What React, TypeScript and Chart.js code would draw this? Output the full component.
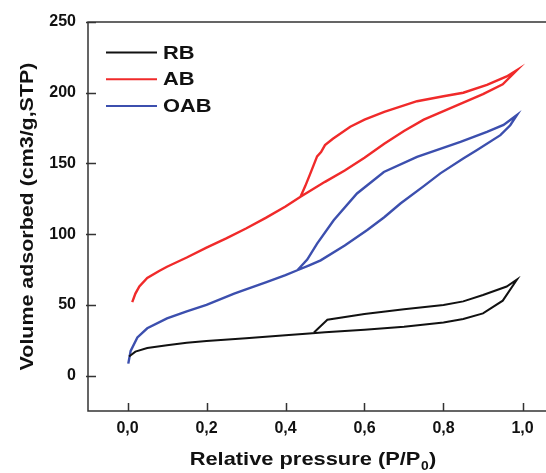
import React, { useEffect, useRef } from "react";
import { Chart, registerables } from "chart.js";

Chart.register(...registerables);

const xTicks = [0, 0.2, 0.4, 0.6, 0.8, 1.0];
const yTicks = [0, 50, 100, 150, 200, 250];

// RB: adsorption branch then desorption branch
const rbPressure = [0.004, 0.02, 0.05, 0.1, 0.15, 0.2, 0.3, 0.4, 0.46, 0.5, 0.6, 0.7, 0.8, 0.85, 0.9, 0.95, 0.986,
  0.96, 0.9, 0.85, 0.8, 0.7, 0.6, 0.506, 0.472];
const rbVolume = [13.5, 17, 19.5, 21.5, 23.2, 24.5, 26.5, 28.5, 29.8, 30.6, 32.5, 34.5, 37.5, 40, 44, 53, 68,
  63, 57, 52.5, 50, 47, 43.5, 39.5, 30.5];

const abPressure = [0.012, 0.02, 0.03, 0.05, 0.08, 0.1, 0.15, 0.2, 0.25, 0.3, 0.35, 0.4, 0.438, 0.5, 0.55, 0.6, 0.65, 0.7, 0.75, 0.8, 0.85, 0.9, 0.95, 0.986,
  0.96, 0.91, 0.85, 0.8, 0.733, 0.65, 0.6, 0.564, 0.52, 0.5, 0.49, 0.48, 0.463, 0.45, 0.438];
const abVolume = [52, 58, 63, 69, 74, 77, 83.5, 90.5, 97, 104, 111.5, 119.5, 126.5, 137, 145, 154, 164, 173, 181, 187, 193, 199, 206, 216,
  211.5, 205.5, 200, 197.5, 194, 186.5, 181, 176, 167.5, 163, 158, 155, 143, 134, 126.5];

const oabPressure = [0.002, 0.008, 0.025, 0.05, 0.1, 0.15, 0.2, 0.27, 0.3, 0.35, 0.4, 0.43, 0.46, 0.489, 0.55, 0.607, 0.65, 0.691, 0.75, 0.792, 0.85, 0.885, 0.944, 0.969, 0.986,
  0.952, 0.91, 0.843, 0.733, 0.649, 0.581, 0.522, 0.48, 0.455, 0.43];
const oabVolume = [8.5, 17.5, 27, 33.5, 40.5, 45.5, 50, 58, 61, 66, 71, 74.5, 78, 81.5, 92, 103, 112, 121.7, 134, 143, 153.5, 159.5, 170, 177, 184.3,
  177.2, 172.4, 165.3, 154.7, 144, 128.8, 109.8, 93.3, 82, 74.5];

const seriesNames = ["RB", "AB", "OAB"];
const seriesColors = ["#111111", "#f02a2a", "#3c4fae"];

const FONT = "'Liberation Sans', Arial, sans-serif";
const STRETCH = 1.15;

const toPoints = (xs: number[], ys: number[]) => xs.map((x, i) => ({ x, y: ys[i] }));

const drawStretched = (ctx: any, text: string, x: number, y: number) => {
  ctx.save();
  ctx.translate(x, y);
  ctx.scale(STRETCH, 1);
  ctx.fillText(text, 0, 0);
  ctx.restore();
};

const framePlugin = {
  id: "frame",
  afterDraw(chart: any) {
    const { ctx, chartArea: a, scales } = chart;
    ctx.save();
    ctx.strokeStyle = "#333333";
    ctx.lineWidth = 1.5;
    ctx.beginPath();
    ctx.moveTo(a.left, a.top);
    ctx.lineTo(a.right, a.top);
    ctx.lineTo(a.right, a.bottom);
    ctx.lineTo(a.left, a.bottom);
    ctx.closePath();
    for (const v of xTicks) {
      const px = Math.round(scales.x.getPixelForValue(v)) + 0.5;
      ctx.moveTo(px, a.bottom);
      ctx.lineTo(px, a.bottom - 8);
    }
    for (const v of yTicks) {
      const py = Math.round(scales.y.getPixelForValue(v)) + 0.5;
      ctx.moveTo(a.left - 2, py);
      ctx.lineTo(a.left + 8, py);
    }
    ctx.stroke();

    // legend
    const lx = a.left + 18;
    const ly = a.top + 30.5;
    chart.data.datasets.forEach((ds: any, i: number) => {
      const y = ly + i * 26.7;
      ctx.strokeStyle = ds.borderColor;
      ctx.lineWidth = 2;
      ctx.beginPath();
      ctx.moveTo(lx, y);
      ctx.lineTo(lx + 51, y);
      ctx.stroke();
      ctx.fillStyle = "#111111";
      ctx.font = `bold 19px ${FONT}`;
      ctx.textAlign = "left";
      ctx.textBaseline = "middle";
      drawStretched(ctx, ds.label, lx + 57, y + 1);
    });

    // x title with subscript
    ctx.fillStyle = "#111111";
    ctx.textBaseline = "alphabetic";
    ctx.textAlign = "left";
    const main = "Relative pressure (P/P";
    const big = `bold 19px ${FONT}`;
    const small = `bold 12px ${FONT}`;
    ctx.font = big;
    const w1 = ctx.measureText(main).width * STRETCH;
    const w3 = ctx.measureText(")").width * STRETCH;
    ctx.font = small;
    const w2 = ctx.measureText("0").width * STRETCH;
    const total = w1 + w2 + w3 + 1;
    const cx = (a.left + a.right) / 2 - 12;
    const x0 = cx - total / 2;
    const base = 465;
    ctx.font = big;
    drawStretched(ctx, main, x0, base);
    ctx.font = small;
    drawStretched(ctx, "0", x0 + w1 + 0.5, base + 5);
    ctx.font = big;
    drawStretched(ctx, ")", x0 + w1 + w2 + 1, base);

    // y title
    ctx.save();
    ctx.translate(28, (a.top + a.bottom) / 2);
    ctx.rotate(-Math.PI / 2);
    ctx.scale(STRETCH * 0.98, 1);
    ctx.textAlign = "center";
    ctx.textBaseline = "middle";
    ctx.font = `bold 19px ${FONT}`;
    ctx.fillText("Volume adsorbed (cm3/g,STP)", 0, 0);
    ctx.restore();

    ctx.restore();
  },
};

export default function App() {
  const ref = useRef<HTMLCanvasElement | null>(null);

  useEffect(() => {
    if (!ref.current) return;
    const xs = [rbPressure, abPressure, oabPressure];
    const ys = [rbVolume, abVolume, oabVolume];
    const chart = new Chart(ref.current, {
      type: "scatter",
      data: {
        datasets: seriesNames.map((name, i) => ({
          label: name,
          data: toPoints(xs[i], ys[i]),
          showLine: true,
          borderColor: seriesColors[i],
          backgroundColor: seriesColors[i],
          borderWidth: i === 0 ? 2 : 2.4,
          pointRadius: 0,
          tension: 0,
        })),
      },
      options: {
        responsive: false,
        animation: false,
        devicePixelRatio: 1,
        layout: { padding: { left: 0, right: 4, top: 22, bottom: 0 } },
        plugins: { legend: { display: false }, tooltip: { enabled: false } },
        scales: {
          x: {
            type: "linear",
            min: -0.1,
            max: 1.1,
            afterFit: (s: any) => {
              s.height = 62;
            },
            afterBuildTicks: (s: any) => {
              s.ticks = xTicks.map((v) => ({ value: v }));
            },
            ticks: {
              autoSkip: false,
              maxRotation: 0,
              padding: 8,
              color: "#111111",
              font: { family: FONT, size: 16, weight: "bold" },
              callback: (v: any) => Number(v).toFixed(1).replace(".", ","),
            },
            grid: { display: false, drawTicks: false },
            border: { display: false },
          },
          y: {
            type: "linear",
            min: -25,
            max: 250,
            afterFit: (s: any) => {
              s.width = 88;
            },
            afterBuildTicks: (s: any) => {
              s.ticks = yTicks.map((v) => ({ value: v }));
            },
            ticks: {
              autoSkip: false,
              padding: 12,
              color: "#111111",
              font: { family: FONT, size: 16, weight: "bold" },
              callback: (v: any) => String(v),
            },
            grid: { display: false, drawTicks: false },
            border: { display: false },
          },
        },
      },
      plugins: [framePlugin],
    });
    return () => chart.destroy();
  }, []);

  return (
    <div style={{ position: "absolute", left: 0, top: 0, width: 546, height: 473, overflow: "hidden", background: "#fff" }}>
      <canvas ref={ref} width={566} height={473} style={{ display: "block", width: 566, height: 473 }} />
    </div>
  );
}
